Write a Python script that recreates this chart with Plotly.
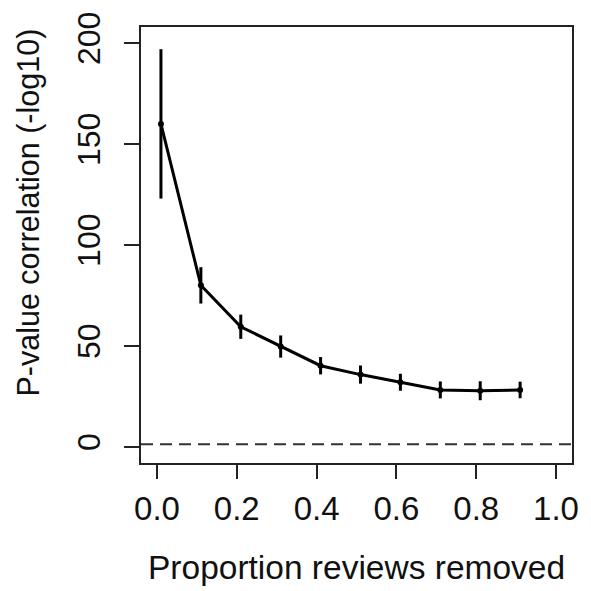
import plotly.graph_objects as go

proportion_removed = [0.01, 0.11, 0.21, 0.31, 0.41, 0.51, 0.61, 0.71, 0.81, 0.91]
pvalue_corr = [160, 80, 59.5, 49.7, 40.2, 35.8, 32.0, 28.2, 27.8, 28.2]
pvalue_err = [37, 9, 6, 5.5, 4.3, 4.5, 4.2, 4.2, 4.7, 4.1]
significance_line = 1.3  # -log10(0.05)
x_ticks = [0.0, 0.2, 0.4, 0.6, 0.8, 1.0]
x_tick_labels = ["0.0", "0.2", "0.4", "0.6", "0.8", "1.0"]
y_ticks = [0, 50, 100, 150, 200]
y_tick_labels = ["0", "50", "100", "150", "200"]

FONT = "Liberation Sans, Arial, Helvetica, sans-serif"

fig = go.Figure()
fig.add_trace(go.Scatter(
    x=proportion_removed, y=pvalue_corr,
    mode="lines+markers",
    line=dict(color="black", width=3),
    marker=dict(color="black", size=6),
    error_y=dict(type="data", array=pvalue_err, visible=True,
                 color="black", thickness=3, width=0),
    showlegend=False,
))

fig.add_shape(type="line", xref="x domain", yref="y",
              x0=0, x1=1, y0=significance_line, y1=significance_line,
              line=dict(color="#333333", width=1.8, dash="12px,7px"))

fig.update_layout(
    width=591, height=591,
    margin=dict(l=141, r=13, t=26, b=128, pad=0),
    paper_bgcolor="white", plot_bgcolor="white",
    font=dict(family=FONT, color="black"),
    xaxis=dict(
        range=[-0.04, 1.04], tickvals=x_ticks, ticktext=x_tick_labels,
        ticks="outside", ticklen=14, tickwidth=1.5, tickcolor="#222222",
        showline=True, linecolor="#222222", linewidth=1.5, mirror=True,
        showgrid=False, zeroline=False,
        tickfont=dict(size=33, family=FONT, color="#111111"),
        ticklabelstandoff=2,
    ),
    yaxis=dict(
        range=[-8, 208], tickvals=y_ticks, ticktext=y_tick_labels,
        tickangle=-90,
        ticks="outside", ticklen=15, tickwidth=1.5, tickcolor="#222222",
        showline=True, linecolor="#222222", linewidth=1.5, mirror=True,
        showgrid=False, zeroline=False,
        tickfont=dict(size=32, family=FONT, color="#111111"),
        ticklabelstandoff=11,
    ),
    annotations=[
        dict(text="Proportion reviews removed", xref="paper", yref="paper",
             x=0.5, y=0, xanchor="center", yanchor="middle", yshift=-104,
             showarrow=False, font=dict(size=33.5, family=FONT, color="#111111")),
        dict(text="P-value correlation (-log10)", xref="paper", yref="paper",
             x=0, y=(463 - 212) / 437, xanchor="center", yanchor="middle",
             xshift=-112, textangle=-90,
             showarrow=False, font=dict(size=30.5, family=FONT, color="#111111")),
    ],
)

fig.write_html("out.html")
